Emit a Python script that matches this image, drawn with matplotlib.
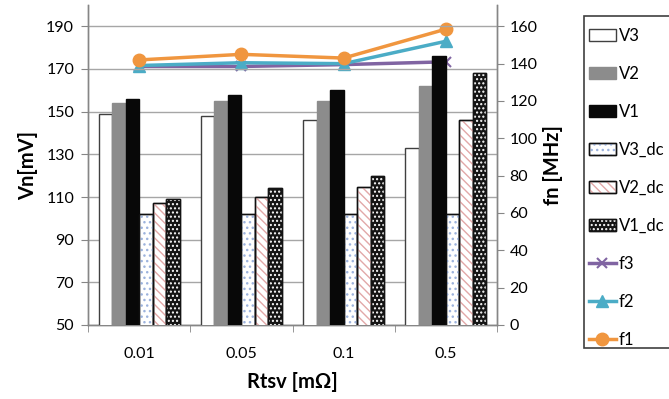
import matplotlib
matplotlib.use("Agg")
import matplotlib.pyplot as plt
import numpy as np
from matplotlib.patches import Patch, Rectangle
from matplotlib.lines import Line2D
from matplotlib.legend_handler import HandlerTuple

plt.rcParams['font.family'] = ['Lato', 'DejaVu Sans']

categories = ['0.01', '0.05', '0.1', '0.5']

# bar series, mV (left axis)
V3 = [149, 148, 146, 133]
V2 = [154, 155, 155, 162]
V1 = [156, 158, 160, 176]
V3_dc = [102, 102, 102, 102]
V2_dc = [107, 110, 114.5, 146]
V1_dc = [109, 114, 120, 168]

# line series, MHz (right axis)
f3 = [138.5, 138.5, 139.5, 141]
f2 = [139, 140.5, 140, 152]
f1 = [142, 145, 143, 158.5]

bar_series = [
    ('V3', V3, dict(face='white', edge='#404040', hatch=None, hcol=None)),
    ('V2', V2, dict(face='#8C8C8C', edge='#8C8C8C', hatch=None, hcol=None)),
    ('V1', V1, dict(face='#080808', edge='#080808', hatch=None, hcol=None)),
    ('V3_dc', V3_dc, dict(face='white', edge='#101010', hatch='...', hcol='#9DB3DD')),
    ('V2_dc', V2_dc, dict(face='white', edge='#101010', hatch='\\\\\\\\', hcol='#E2A8A8')),
    ('V1_dc', V1_dc, dict(face='#141414', edge='#141414', hatch='....', hcol='white')),
]
line_series = [
    ('f3', f3, dict(color='#8064A2', marker='x', ms=7, mew=1.5)),
    ('f2', f2, dict(color='#4BACC6', marker='^', ms=8, mew=1)),
    ('f1', f1, dict(color='#F0963F', marker='o', ms=9, mew=1)),
]

plt.rcParams['hatch.linewidth'] = 1.0

W, H = 669, 399
fig = plt.figure(figsize=(W/100, H/100), dpi=100)
ax = fig.add_axes([88/W, 1-325/H, (497-88)/W, 320/H])
ax2 = ax.twinx()

x = np.arange(len(categories))
n = len(bar_series)
width = 0.132
offsets = (np.arange(n) - (n-1)/2) * width

handles = []
labels = []
for i, (name, vals, st) in enumerate(bar_series):
    xs = x + offsets[i]
    ax.bar(xs, vals, width, facecolor=st['face'], edgecolor=st['edge'],
           linewidth=1.0, zorder=3)
    base = Patch(facecolor=st['face'], edgecolor=st['edge'], linewidth=1.0)
    if st['hatch']:
        ax.bar(xs, vals, width, facecolor='none', edgecolor=st['hcol'],
               hatch=st['hatch'], linewidth=0, zorder=3.5)
        ax.bar(xs, vals, width, facecolor='none', edgecolor=st['edge'],
               linewidth=1.0, zorder=3.6)
        over = Patch(facecolor='none', edgecolor=st['hcol'], hatch=st['hatch'], linewidth=0)
        edge = Patch(facecolor='none', edgecolor=st['edge'], linewidth=1.0)
        handles.append((base, over, edge))
    else:
        handles.append(base)
    labels.append(name)

for name, vals, st in line_series:
    ax2.plot(x, vals, color=st['color'], lw=2.5, marker=st['marker'],
             ms=st['ms'], mew=st['mew'], mfc=st['color'], mec=st['color'], zorder=2)
    handles.append(Line2D([], [], color=st['color'], lw=2.5, marker=st['marker'],
                          ms=st['ms'], mew=st['mew']))
    labels.append(name)

# lines sit beneath the bars
ax.set_zorder(ax2.get_zorder() + 1)
ax.patch.set_visible(False)

ax.set_xlim(-0.5, len(categories) - 0.5)
ax.set_ylim(50, 200)
ax2.set_ylim(0, 160 * 150 / 140)
ax.set_yticks(np.arange(50, 191, 20))
ax2.set_yticks(np.arange(0, 161, 20))
ax.set_xticks(x)
ax.set_xticklabels(categories)
ax.set_xticks(np.arange(-0.5, len(categories), 1), minor=True)
ax.tick_params(axis='x', which='major', length=0, pad=16, labelsize=11.5)
ax.tick_params(axis='x', which='minor', length=5, color='#868686', direction='out')
ax.tick_params(axis='y', length=5, color='#868686', labelsize=11.5, pad=5)
ax2.tick_params(axis='y', length=5, color='#868686', labelsize=11.5, pad=4)

ax.yaxis.grid(True, color='#A6A6A6', lw=1.0, zorder=0)
ax.set_axisbelow(True)

for a in (ax, ax2):
    a.spines['top'].set_visible(False)
    for s in ('left', 'right', 'bottom'):
        a.spines[s].set_color('#868686')
        a.spines[s].set_linewidth(1.0)

ax.set_ylabel('Vn[mV]', fontsize=14.5, fontweight='bold', labelpad=6)
ax2.set_ylabel('fn [MHz]', fontsize=14.5, fontweight='bold', labelpad=4)
ax.set_xlabel('Rtsv [mΩ]', fontsize=14.5, fontweight='bold', labelpad=8)

# legend box (runs past the right edge of the figure)
fig.add_artist(Rectangle((584/W, 1-348/H), 120/W, (348-16)/H,
                         transform=fig.transFigure, facecolor='white',
                         edgecolor='#404040', linewidth=1.2, zorder=5))
leg = fig.legend(handles, labels, loc='upper left',
                 bbox_to_anchor=(589/W, 1 - 28/H), bbox_transform=fig.transFigure,
                 fontsize=12, labelspacing=1.32, handlelength=1.6, handleheight=0.7,
                 handletextpad=0.2, borderpad=0, borderaxespad=0,
                 frameon=False,
                 handler_map={tuple: HandlerTuple(ndivide=1, pad=0)})
leg.set_zorder(6)

fig.savefig('out.png', dpi=100)
